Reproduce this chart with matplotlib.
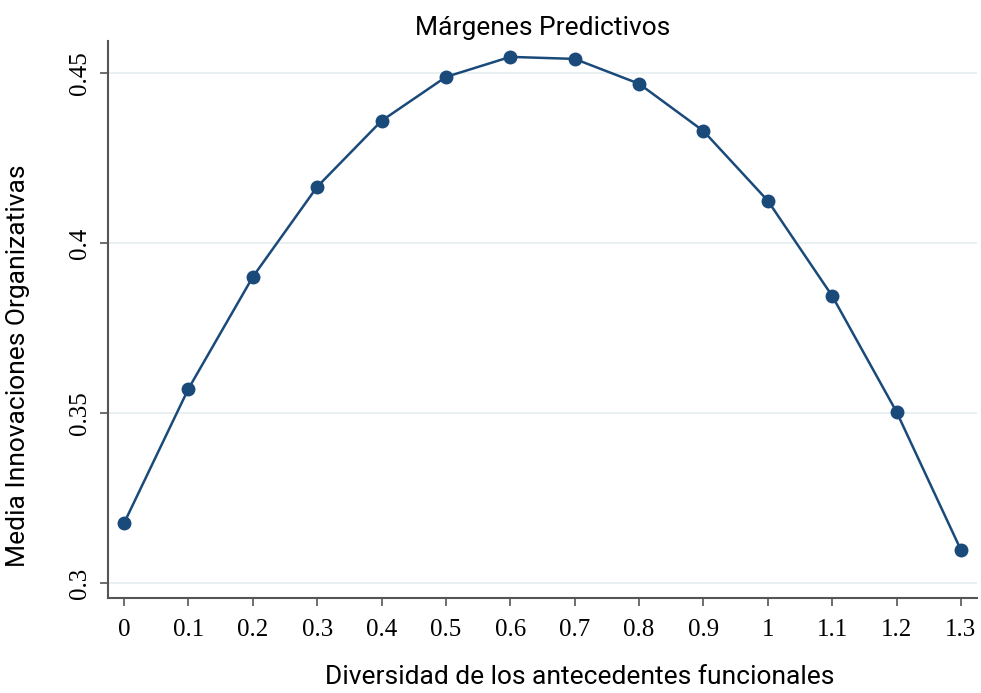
import numpy as np
import matplotlib
matplotlib.use("Agg")
import matplotlib.pyplot as plt

# diversidad de antecedentes funcionales vs margenes predictivos
x_vals = [0, 0.1, 0.2, 0.3, 0.4, 0.5, 0.6, 0.7, 0.8, 0.9, 1.0, 1.1, 1.2, 1.3]
y_vals = [0.3176, 0.3571, 0.3900, 0.4165, 0.4359, 0.4488, 0.4547,
          0.4541, 0.4468, 0.4329, 0.4124, 0.3844, 0.3503, 0.3097]
x_ticks = [0, 0.1, 0.2, 0.3, 0.4, 0.5, 0.6, 0.7, 0.8, 0.9, 1, 1.1, 1.2, 1.3]
x_tick_labels = ['0', '0.1', '0.2', '0.3', '0.4', '0.5', '0.6', '0.7', '0.8',
                 '0.9', '1', '1.1', '1.2', '1.3']
y_ticks = [0.3, 0.35, 0.4, 0.45]
y_tick_labels = ['0.3', '0.35', '0.4', '0.45']

col = '#1a4a7a'

fig = plt.figure(figsize=(9.81, 6.93), dpi=100)
ax = fig.add_axes([0.110, 0.137, 0.886, 0.804])

ax.plot(x_vals, y_vals, color=col, lw=1.8, marker='o', ms=9,
        markerfacecolor=col, markeredgecolor=col, zorder=3)

ax.set_xlim(-0.025, 1.325)
ax.set_ylim(0.2956, 0.4594)

ax.set_yticks(y_ticks)
ax.set_yticklabels(y_tick_labels, rotation=90, va='center',
                   family='Liberation Serif', fontsize=18)
ax.set_xticks(x_ticks)
ax.set_xticklabels(x_tick_labels, family='Liberation Serif', fontsize=18)
ax.tick_params(axis='both', direction='out', length=6, width=1.2,
               color='#555555', pad=9)
ax.tick_params(axis='y', pad=6)

ax.grid(axis='y', color='#e4eef0', lw=1.2)
ax.set_axisbelow(True)
for s in ['top', 'right']:
    ax.spines[s].set_visible(False)
for s in ['left', 'bottom']:
    ax.spines[s].set_color('#555555')
    ax.spines[s].set_linewidth(1.5)

ax.set_title('Márgenes Predictivos', family='Roboto', fontsize=19, pad=4)
ax.set_xlabel('Diversidad de los antecedentes funcionales', family='Roboto',
              fontsize=19)
ax.set_ylabel('Media Innovaciones Organizativas', family='Roboto',
              fontsize=19)
ax.xaxis.set_label_coords(0.543, -0.12)
ax.yaxis.set_label_coords(-0.09, 0.417)

fig.savefig('out.png', dpi=100)
